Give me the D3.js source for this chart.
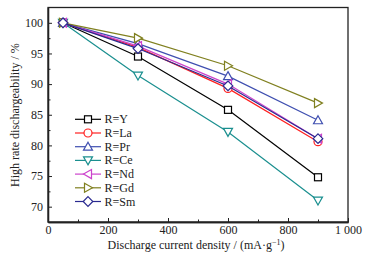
<!DOCTYPE html>
<html><head><meta charset="utf-8">
<script src="https://cdn.jsdelivr.net/npm/d3@7"></script>
<style>body{margin:0;background:#fff}svg{display:block}</style>
</head><body>
<svg id="c" width="389" height="257"></svg>
<script>
const xValues = [50, 300, 600, 900];
const seriesNames = ["R=Y","R=La","R=Pr","R=Ce","R=Nd","R=Gd","R=Sm"];
const valY  = [100, 94.5, 85.8, 74.8];
const valLa = [100, 96.0, 89.3, 80.6];
const valPr = [100, 96.6, 91.3, 84.1];
const valCe = [100, 91.4, 82.2, 71.0];
const valNd = [100, 96.2, 90.0, 81.1];
const valGd = [100, 97.5, 93.0, 86.9];
const valSm = [100, 95.8, 89.7, 81.1];
const xTicks = [0,200,400,600,800,1000];
const xTickLabels = ["0","200","400","600","800","1 000"];
const yTicks = [70,75,80,85,90,95,100];

const colors = ["#000000","#ff2020","#3f4fb0","#1a8f8f","#cc44cc","#808020","#2a2a90"];
const shapes = ["square","circle","triUp","triDown","triLeft","triRight","diamond"];
const allVals = [valY,valLa,valPr,valCe,valNd,valGd,valSm];

const svg = d3.select("#c");
const L=48,R=348,T=7.5,B=222;
const x = d3.scaleLinear().domain([0,1000]).range([L,R]);
const y = d3.scaleLinear().domain([67.5,102.5]).range([B,T]);
const font = "'Liberation Serif','Times New Roman',serif";

svg.append("rect").attr("x",L).attr("y",T).attr("width",R-L).attr("height",B-T)
  .attr("fill","#fff").attr("stroke","#222").attr("stroke-width",1.3);

const xAxis = d3.axisBottom(x).tickValues(xTicks).tickFormat((d,i)=>xTickLabels[i]).tickSizeInner(-4).tickSizeOuter(0).tickPadding(3);
const gx = svg.append("g").attr("transform",`translate(0,${B})`).call(xAxis);
const xMinor = d3.axisBottom(x).tickValues([100,300,500,700,900]).tickFormat("").tickSizeInner(-2.5).tickSizeOuter(0);
const gxm = svg.append("g").attr("transform",`translate(0,${B})`).call(xMinor);
const yAxis = d3.axisLeft(y).tickValues(yTicks).tickSizeInner(-4).tickSizeOuter(0).tickPadding(5);
const gy = svg.append("g").attr("transform",`translate(${L},0)`).call(yAxis);
const yMinor = d3.axisLeft(y).tickValues([72.5,77.5,82.5,87.5,92.5,97.5]).tickFormat("").tickSizeInner(-2.5).tickSizeOuter(0);
const gym = svg.append("g").attr("transform",`translate(${L},0)`).call(yMinor);
[gx,gxm,gy,gym].forEach(g=>{
  g.select(".domain").attr("stroke","#222").attr("stroke-width",1.3);
  g.selectAll(".tick line").attr("stroke","#222");
  g.selectAll("text").attr("font-family",font).attr("font-size",12).attr("fill","#222");
});

function marker(g, shape, cx, cy, color){
  let el;
  if(shape==="square") el=g.append("rect").attr("x",cx-3.5).attr("y",cy-3.5).attr("width",7).attr("height",7);
  else if(shape==="circle") el=g.append("circle").attr("cx",cx).attr("cy",cy).attr("r",4);
  else {
    let pts;
    if(shape==="triUp") pts=[[0,-4.5],[4.5,3.5],[-4.5,3.5]];
    if(shape==="triDown") pts=[[0,4.5],[4.5,-3.5],[-4.5,-3.5]];
    if(shape==="triLeft") pts=[[-4.5,0],[3.5,-4.5],[3.5,4.5]];
    if(shape==="triRight") pts=[[4.5,0],[-3.5,-4.5],[-3.5,4.5]];
    if(shape==="diamond") pts=[[0,-4.8],[4.8,0],[0,4.8],[-4.8,0]];
    el=g.append("polygon").attr("points",pts.map(p=>[cx+p[0],cy+p[1]].join(",")).join(" "));
  }
  el.attr("fill","#fff").attr("stroke",color).attr("stroke-width",1.2);
}

const line = d3.line().x((d,i)=>x(xValues[i])).y(d=>y(d));
allVals.forEach((vals,k)=>{
  const g=svg.append("g");
  g.append("path").attr("d",line(vals)).attr("fill","none").attr("stroke",colors[k]).attr("stroke-width",1.2);
  vals.forEach((v,i)=>marker(g,shapes[k],x(xValues[i]),y(v),colors[k]));
});

seriesNames.forEach((n,k)=>{
  const ly=119.3+k*13.7;
  const g=svg.append("g");
  g.append("line").attr("x1",75).attr("x2",101).attr("y1",ly).attr("y2",ly).attr("stroke",colors[k]).attr("stroke-width",1.2);
  marker(g,shapes[k],88,ly,colors[k]);
  g.append("text").attr("x",104.5).attr("y",ly+4).attr("font-family",font).attr("font-size",12).attr("fill","#222").text(n);
});

svg.append("text").attr("transform","translate(19,115) rotate(-90)").attr("text-anchor","middle")
  .attr("font-family",font).attr("font-size",12).attr("fill","#222").text("High rate dischargeability / %");
const xl = svg.append("text").attr("x",196).attr("y",249).attr("text-anchor","middle")
  .attr("font-family",font).attr("font-size",12).attr("fill","#222");
xl.append("tspan").text("Discharge current density / (mA·g");
xl.append("tspan").attr("dy",-4).attr("font-size",8).text("−1");
xl.append("tspan").attr("dy",4).text(")");
</script>
</body></html>
